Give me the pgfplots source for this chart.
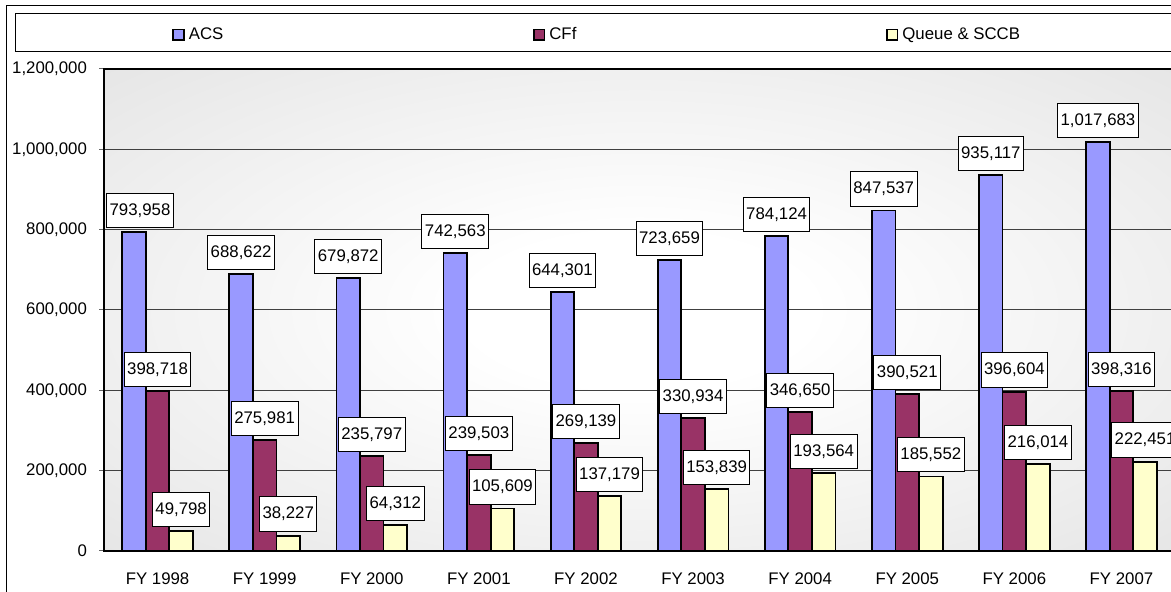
\documentclass[border=0pt]{standalone}
\usepackage{fontspec}
\setmainfont{Liberation Sans}
\usepackage{pgfplots}
\usepackage{pgfplotstable}
\pgfplotsset{compat=1.18}
\definecolor{acs}{HTML}{9999FF}
\definecolor{cff}{HTML}{993366}
\definecolor{que}{HTML}{FFFFCC}
\pgfdeclareradialshading{plotbg}{\pgfpoint{0bp}{0bp}}{color(0bp)=(white); color(8bp)=(white); color(50bp)=(black!15); color(100bp)=(black!15)}
\pgfplotstableread{
x acs acsl cff cffl q ql sh
0 793958 793,958 398718 398,718 49798 49,798 3
1 688622 688,622 275981 275,981 38227 38,227 0
2 679872 679,872 235797 235,797 64312 64,312 0
3 742563 742,563 239503 239,503 105609 105,609 0
4 644301 644,301 269139 269,139 137179 137,179 0
5 723659 723,659 330934 330,934 153839 153,839 0
6 784124 784,124 346650 346,650 193564 193,564 0
7 847537 847,537 390521 390,521 185552 185,552 0
8 935117 935,117 396604 396,604 216014 216,014 0
9 1017683 1,017,683 398316 398,316 222451 222,451 0
}\datatable
\newcommand{\lfont}{\fontsize{8.4}{10}\selectfont}
\begin{document}
\begin{tikzpicture}
\useasboundingbox (0,0) rectangle (585.5pt,296pt);
\clip (0,0) rectangle (585.5pt,296pt);
\begin{axis}[
  at={(52pt,20.5pt)}, anchor=south west,
  scale only axis, width=535.5pt, height=241pt,
  xmin=-0.5, xmax=9.5, ymin=0, ymax=1200000,
  axis background/.style={shading=plotbg},
  axis line style={black, line width=1pt},
  ytick={0,200000,...,1200000},
  scaled y ticks=false,
  yticklabel style={/pgf/number format/fixed, /pgf/number format/precision=0, /pgf/number format/1000 sep={,}, /pgf/number format/assume math mode=true, xshift=-2.5pt},
  ymajorgrids, major grid style={black!75, line width=0.5pt},
  tick align=outside, major tick length=2.5pt,
  ytick style={black!60, line width=0.5pt},
  xtick={0,...,9},
  xticklabels={FY 1998,FY 1999,FY 2000,FY 2001,FY 2002,FY 2003,FY 2004,FY 2005,FY 2006,FY 2007},
  xtick style={draw=none},
  xticklabel style={yshift=-5pt},
  extra x ticks={-0.5,0.5,...,9.5},
  extra x tick labels={},
  extra x tick style={xtick style={black!60, line width=0.5pt}, major tick length=2.5pt},
  tick label style={font=\lfont},
  bar width=0.22,
  legend columns=3,
  legend style={at={(0.0635,1.071)}, anchor=west, draw=none, fill=none, inner sep=0pt,
    font=\lfont, /tikz/every even column/.append style={column sep=152.8pt}},
  nodes near coords={\pgfplotspointmeta},
  point meta=explicit symbolic,
  every node near coord/.append style={font=\lfont, draw=black, fill=white, line width=0.5pt,
    inner xsep=1.5pt, inner ysep=4.8pt, text height=6.2pt, text depth=1.3pt, anchor=south, yshift=2pt},
]
\pgfplotsset{mylegend/.style={legend image code/.code={\draw[##1,draw=black,line width=0.8pt] (0pt,-2.7pt) rectangle (5.4pt,2.7pt);}}}
\addplot[ybar, bar shift=0pt, fill=acs, draw=black, line width=0.9pt, mylegend,
  visualization depends on={\thisrow{sh} \as \lsh},
  every node near coord/.append style={xshift=\lsh pt}]
  table[x expr=\thisrow{x}-0.22, y=acs, meta=acsl]{\datatable};
\addplot[ybar, bar shift=0pt, fill=cff, draw=black, line width=0.9pt, mylegend]
  table[x=x, y=cff, meta=cffl]{\datatable};
\addplot[ybar, bar shift=0pt, fill=que, draw=black, line width=0.9pt, mylegend]
  table[x expr=\thisrow{x}+0.22, y=q, meta=ql]{\datatable};
\legend{ACS, CFf, Queue \& SCCB}
\end{axis}
\draw[line width=0.5pt] (7.5pt,270pt) rectangle (590pt,289pt);
\draw[line width=0.5pt] (3pt,-5pt) rectangle (600pt,293pt);
\end{tikzpicture}
\end{document}
